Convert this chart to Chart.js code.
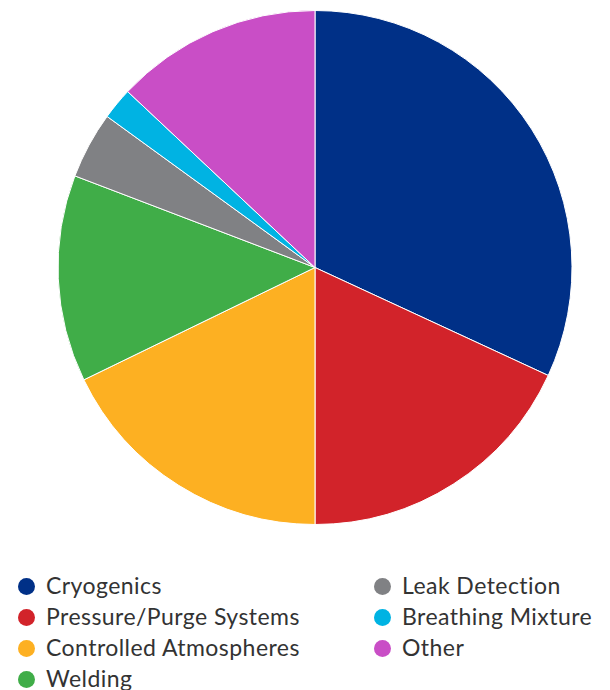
<!DOCTYPE html>
<html>
<head>
<meta charset="utf-8">
<script src="https://cdn.jsdelivr.net/npm/chart.js@4"></script>
<style>
  html, body { margin: 0; padding: 0; background: #fff; }
  #wrap { position: relative; width: 610px; height: 690px; overflow: hidden; }
  #chartBox { position: absolute; left: 0; top: 0; width: 610px; height: 525px; }
  .leg { position: absolute; font-family: Lato, "Open Sans", sans-serif; font-size: 23px; letter-spacing: 0.45px; color: #333; white-space: nowrap; line-height: 26px; }
  .dot { position: absolute; width: 17px; height: 17px; border-radius: 50%; }
</style>
</head>
<body>
<div id="wrap">
  <div id="chartBox"><canvas id="c"></canvas></div>
  <div id="legend"></div>
</div>
<script>
const categories = ["Cryogenics", "Pressure/Purge Systems", "Controlled Atmospheres", "Welding", "Leak Detection", "Breathing Mixture", "Other"];
const shares = [31.9, 18.1, 17.8, 13.0, 4.2, 2.0, 13.0];
const colors = ["#003087", "#d2232a", "#fdb022", "#40ad48", "#808184", "#00b3e3", "#c94ec6"];

new Chart(document.getElementById('c'), {
  type: 'pie',
  data: {
    labels: categories,
    datasets: [{
      data: shares,
      backgroundColor: colors,
      borderColor: '#ffffff',
      borderWidth: 1
    }]
  },
  options: {
    responsive: true,
    maintainAspectRatio: false,
    animation: false,
    layout: { padding: { top: 10, left: 20, right: 0, bottom: 0 } },
    plugins: { legend: { display: false }, tooltip: { enabled: false } }
  }
});

// HTML legend, column-major (4 rows in first column)
const legend = document.getElementById('legend');
const rowsPerCol = 4;
const colX = [18, 374];
const rowY = [586, 617, 648, 679];
categories.forEach((name, i) => {
  const col = Math.floor(i / rowsPerCol);
  const row = i % rowsPerCol;
  const dot = document.createElement('div');
  dot.className = 'dot';
  dot.style.background = colors[i];
  dot.style.left = colX[col] + 'px';
  dot.style.top = (rowY[row] - 8.5) + 'px';
  legend.appendChild(dot);
  const t = document.createElement('div');
  t.className = 'leg';
  t.textContent = name;
  t.style.left = (colX[col] + 28) + 'px';
  t.style.top = (rowY[row] - 14) + 'px';
  legend.appendChild(t);
});
</script>
</body>
</html>
